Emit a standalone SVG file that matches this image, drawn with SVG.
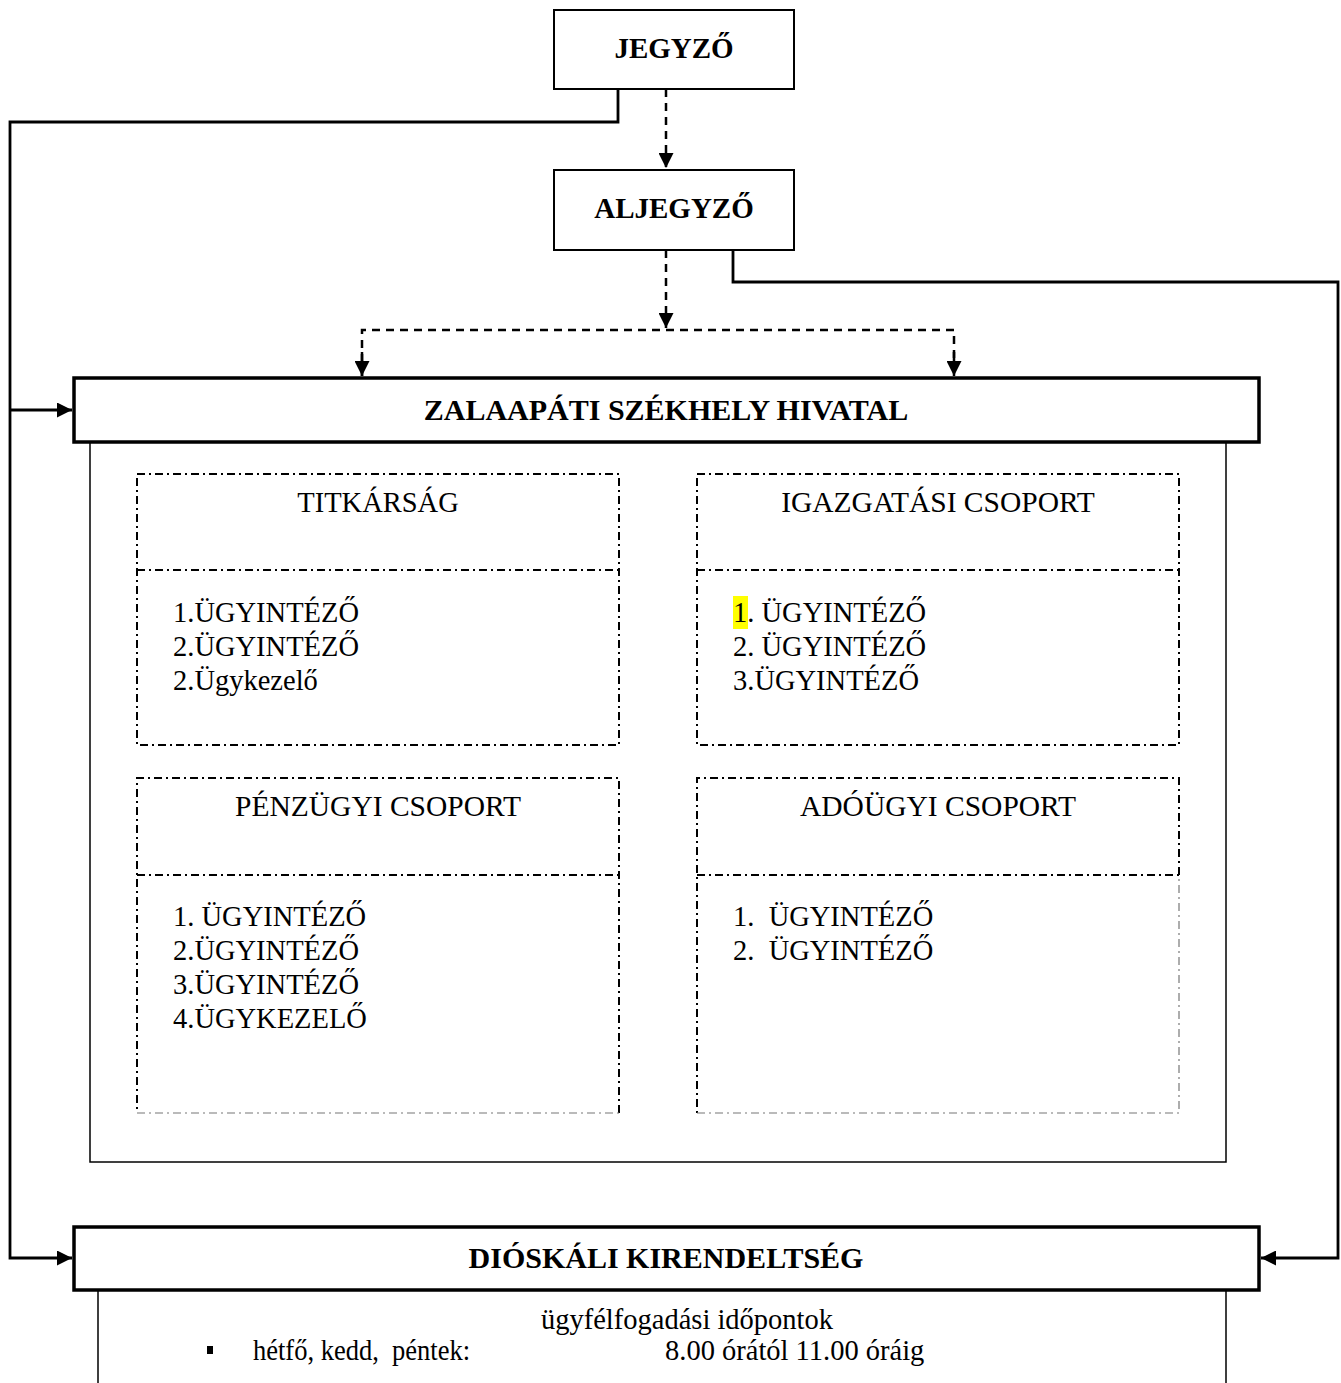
<svg xmlns="http://www.w3.org/2000/svg" width="1341" height="1383" viewBox="0 0 1341 1383">
<style>
text{font-family:"Liberation Serif","Times New Roman",serif;fill:#000}
.b{font-weight:bold;font-size:29px;text-anchor:middle}
.bl{font-size:30px}
.r{font-size:28.5px}
.t{font-size:29.5px}
.c{text-anchor:middle}
.box{fill:#fff;stroke:#000;stroke-width:2}
.main{fill:#fff;stroke:#000;stroke-width:3.5}
.inner{fill:none;stroke:#000;stroke-width:1.5}
.dd{fill:none;stroke:#000;stroke-width:2;stroke-dasharray:8 4 2 4}
.ddl{fill:none;stroke:#777;stroke-width:1.2;stroke-dasharray:8 4 2 4}
.con{fill:none;stroke:#000;stroke-width:2.8}
.dash{fill:none;stroke:#000;stroke-width:2.5;stroke-dasharray:8 6}
</style>
<defs>
<marker id="ah" markerUnits="userSpaceOnUse" markerWidth="15" markerHeight="15" refX="15" refY="7.5" orient="auto" viewBox="0 0 15 15">
<path d="M0,0 L15,7.5 L0,15 z" fill="#000"/>
</marker>
</defs>

<g id="connectors">
<path class="con" d="M618,89 V122 H10 V1258 H72" marker-end="url(#ah)"/>
<path class="con" d="M10,410 H72" marker-end="url(#ah)"/>
<path class="con" d="M733,250 V282 H1338 V1258 H1261" marker-end="url(#ah)"/>
<path class="dash" d="M666,89 V168" marker-end="url(#ah)"/>
<path class="dash" d="M666,250 V328" marker-end="url(#ah)"/>
<path class="dash" d="M362,376 V330 H954 V376" />
<path d="M362,352 V376" stroke="#000" stroke-width="2.5" marker-end="url(#ah)"/>
<path d="M954,352 V376" stroke="#000" stroke-width="2.5" marker-end="url(#ah)"/>
</g>

<g id="jegyzo">
<rect class="box" x="554" y="10" width="240" height="79"/>
<text class="b" x="674" y="58">JEGYZŐ</text>
</g>

<g id="aljegyzo">
<rect class="box" x="554" y="170" width="240" height="80"/>
<text class="b" x="674" y="218">ALJEGYZŐ</text>
</g>

<g id="zalaapati">
<rect class="inner" x="90" y="442" width="1136" height="720"/>
<rect class="main" x="74" y="378" width="1185" height="64"/>
<text class="b bl" x="666" y="420">ZALAAPÁTI SZÉKHELY HIVATAL</text>
</g>

<g id="titkarsag">
<path class="dd" d="M137,474 H619 V745 H137 Z M137,570 H619"/>
<text class="r c" x="378" y="512">TITKÁRSÁG</text>
<text class="r" x="173" y="622">1.ÜGYINTÉZŐ</text>
<text class="r" x="173" y="656">2.ÜGYINTÉZŐ</text>
<text class="r" x="173" y="690">2.Ügykezelő</text>
</g>

<g id="igazgatasi">
<path class="dd" d="M697,474 H1179 V745 H697 Z M697,570 H1179"/>
<rect x="733" y="596" width="15" height="33" fill="#ffff00"/>
<text class="t c" x="938" y="512">IGAZGATÁSI CSOPORT</text>
<text class="r" x="733" y="622">1. ÜGYINTÉZŐ</text>
<text class="r" x="733" y="656">2. ÜGYINTÉZŐ</text>
<text class="r" x="733" y="690">3.ÜGYINTÉZŐ</text>
</g>

<g id="penzugyi">
<path class="dd" d="M619,1113 V778 H137 V1113 M137,875 H619"/>
<path class="ddl" d="M137,1113 H619"/>
<text class="t c" x="378" y="816">PÉNZÜGYI CSOPORT</text>
<text class="r" x="173" y="926">1. ÜGYINTÉZŐ</text>
<text class="r" x="173" y="960">2.ÜGYINTÉZŐ</text>
<text class="r" x="173" y="994">3.ÜGYINTÉZŐ</text>
<text class="r" x="173" y="1028">4.ÜGYKEZELŐ</text>
</g>

<g id="adougyi">
<path class="dd" d="M1179,875 V778 H697 V1113 M697,875 H1179"/>
<path class="ddl" d="M697,1113 H1179 V875"/>
<text class="t c" x="938" y="816">ADÓÜGYI CSOPORT</text>
<text class="r" x="733" y="926" xml:space="preserve">1.  ÜGYINTÉZŐ</text>
<text class="r" x="733" y="960" xml:space="preserve">2.  ÜGYINTÉZŐ</text>
</g>

<g id="dioskali">
<path class="inner" d="M98,1290 V1383 M1226,1290 V1383"/>
<rect class="main" x="74" y="1227" width="1185" height="63"/>
<text class="b bl" x="666" y="1268">DIÓSKÁLI KIRENDELTSÉG</text>
<text class="r c" x="687" y="1329">ügyfélfogadási időpontok</text>
<rect x="207" y="1346" width="6" height="8" fill="#000"/>
<text class="r" x="253" y="1360" xml:space="preserve" textLength="217" lengthAdjust="spacingAndGlyphs">hétfő, kedd,  péntek:</text>
<text class="r" x="665" y="1360">8.00 órától 11.00 óráig</text>
</g>
</svg>
